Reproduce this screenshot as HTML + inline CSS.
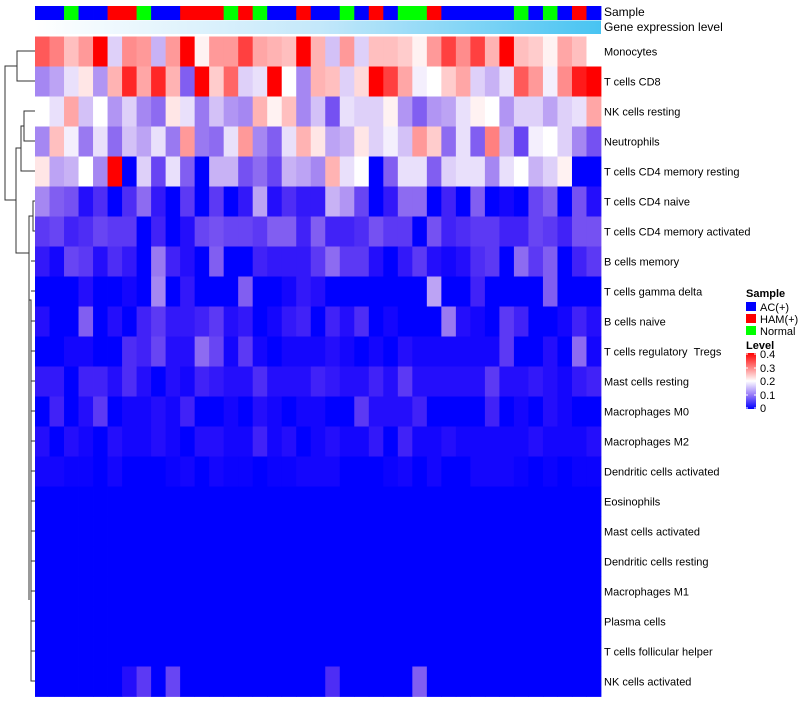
<!DOCTYPE html>
<html><head><meta charset="utf-8"><style>
body{margin:0;background:#fff;}
svg text{font-family:"Liberation Sans",sans-serif;fill:#000;}
</style></head><body>
<svg id="chart" width="800" height="700" xmlns="http://www.w3.org/2000/svg">
<defs>
<linearGradient id="geneGrad" x1="0" x2="1" y1="0" y2="0"><stop offset="0" stop-color="#ffffff"/><stop offset="0.5" stop-color="#c4e8fa"/><stop offset="1" stop-color="#48c4f2"/></linearGradient>
<linearGradient id="levelGrad" x1="0" x2="0" y1="1" y2="0"><stop offset="0" stop-color="#0000ff"/><stop offset="0.25" stop-color="#9679f8"/><stop offset="0.5" stop-color="#ffffff"/><stop offset="1" stop-color="#ff0000"/></linearGradient>
</defs>
<g id="annot"></g>
<rect x="35" y="20.5" width="566" height="13.5" fill="url(#geneGrad)"/>
<text x="604" y="16" font-size="12">Sample</text>
<text x="604" y="31" font-size="12">Gene expression level</text>
<g id="cells"></g>
<g id="labels"></g>
<g stroke="#333" stroke-width="1" fill="none">
<path d="M35 51H17V81H35"/>
<path d="M35 111H24V141H35"/>
<path d="M24 126H21V171H35"/>
<path d="M21 148H16V253H29"/>
<path d="M17 66H5V200H16"/>
<path d="M35 201H33V231H35"/>
<path d="M33 216H29V600"/>
<path d="M29 300H31V681H35"/>
<path d="M31 261H35M31 291H35M31 321H35M31 351H35M31 381H35M31 411H35M31 441H35M31 471H35M31 501H35M31 531H35M31 561H35M31 591H35M31 621H35M31 651H35"/>
</g>
<g>
<text x="746" y="297" font-size="11" font-weight="bold">Sample</text>
<rect x="746" y="302" width="10" height="9" fill="#0000ff"/>
<text x="760" y="311" font-size="11">AC(+)</text>
<rect x="746" y="314" width="10" height="9" fill="#ff0000"/>
<text x="760" y="323" font-size="11">HAM(+)</text>
<rect x="746" y="326" width="10" height="9" fill="#00ff00"/>
<text x="760" y="335" font-size="11">Normal</text>
<text x="746" y="349" font-size="11" font-weight="bold">Level</text>
<rect x="746" y="353" width="10" height="56" fill="url(#levelGrad)"/>
<g stroke="#fff" stroke-width="1">
<path d="M746 354h2M754 354h2M746 368h2M754 368h2M746 381h2M754 381h2M746 395h2M754 395h2M746 408h2M754 408h2"/>
</g>
<text x="760" y="358" font-size="11">0.4</text>
<text x="760" y="372" font-size="11">0.3</text>
<text x="760" y="385" font-size="11">0.2</text>
<text x="760" y="399" font-size="11">0.1</text>
<text x="760" y="412" font-size="11">0</text>
</g>
</svg>
<script>
const rowNames = ["Monocytes","T cells CD8","NK cells resting","Neutrophils","T cells CD4 memory resting","T cells CD4 naive","T cells CD4 memory activated","B cells memory","T cells gamma delta","B cells naive","T cells regulatory\u00a0\u00a0Tregs","Mast cells resting","Macrophages M0","Macrophages M2","Dendritic cells activated","Eosinophils","Mast cells activated","Dendritic cells resting","Macrophages M1","Plasma cells","T cells follicular helper","NK cells activated"];
const sampleGroups = ["AC","AC","N","AC","AC","H","H","N","AC","AC","H","H","H","N","H","N","AC","AC","H","AC","AC","N","AC","H","AC","N","N","H","AC","AC","AC","AC","AC","N","AC","N","AC","H","AC"];
const Z = [0,0,0,0,0,0,0,0,0,0,0,0,0,0,0,0,0,0,0,0,0,0,0,0,0,0,0,0,0,0,0,0,0,0,0,0,0,0,0];
const values = [
[.33,.30,.25,.28,.40,.17,.29,.28,.15,.28,.40,.21,.28,.28,.35,.27,.26,.25,.40,.26,.16,.28,.17,.25,.25,.24,.21,.28,.35,.29,.35,.26,.40,.25,.24,.21,.27,.25,.20],
[.12,.14,.18,.22,.13,.26,.37,.27,.37,.26,.09,.40,.24,.32,.17,.18,.40,.20,.12,.26,.25,.17,.23,.40,.35,.27,.19,.20,.24,.27,.17,.15,.18,.33,.28,.19,.29,.38,.40],
[.20,.18,.27,.16,.20,.13,.17,.12,.10,.22,.18,.11,.16,.13,.12,.26,.21,.25,.12,.16,.08,.18,.17,.17,.21,.13,.09,.13,.14,.18,.21,.20,.13,.17,.17,.14,.17,.18,.27],
[.12,.25,.19,.11,.18,.10,.16,.14,.18,.11,.28,.11,.10,.18,.28,.12,.09,.18,.26,.22,.14,.15,.22,.17,.19,.16,.28,.24,.10,.18,.09,.30,.15,.07,.19,.20,.17,.12,.08],
[.22,.14,.15,.20,.12,.40,0,.17,.07,.18,.09,0,.15,.15,.08,.10,.07,.15,.14,.12,.26,.18,.20,0,.09,.18,.18,.09,.17,.18,.18,.12,.18,.20,.15,.17,.21,0,0],
[.12,.09,.08,.02,.05,0,.05,.10,.03,0,.06,0,.06,0,.03,.14,.02,.05,.03,.03,.15,.13,.07,0,.03,.10,.10,0,.04,0,.09,0,.01,0,.07,.09,0,.08,.02],
[.06,.07,.04,.05,.07,.06,.06,0,.04,0,.02,.07,.08,.07,.07,.06,.09,.09,.04,.09,.04,.04,.05,.08,.06,.06,0,.08,.04,.05,.06,.06,.04,.04,.07,.06,.04,.08,.08],
[.03,.01,.07,.06,.02,.05,.03,0,.11,.04,.02,0,.09,0,0,.04,.03,.03,.03,.06,.10,.06,.06,.02,0,.03,.06,.02,.01,.02,.05,.06,0,.10,.06,.09,0,.04,.06],
[0,0,0,.02,0,0,.01,0,.12,0,.03,0,0,0,.09,0,0,.01,.03,.02,0,0,0,0,0,0,0,.14,0,0,.04,0,0,0,0,.09,0,0,0],
[.02,0,0,.09,0,.02,0,.04,.06,.03,.03,.04,.06,.02,.03,0,.01,.03,.04,0,.04,.02,.05,0,.01,0,0,0,.11,.02,.01,0,.06,.04,0,0,.01,.04,.02],
[0,0,.01,.01,0,0,.05,.04,.07,.02,.02,.10,.07,.01,.06,.01,0,.01,.01,.01,.02,.01,0,.01,0,.02,.01,.01,.01,.01,.01,.01,.06,0,0,.02,0,.10,.01],
[.03,.03,0,.04,.04,.02,.05,.02,0,.02,.01,.04,.03,.02,.02,.05,.02,.02,.02,.04,.03,.02,.02,.04,.02,.06,.02,.02,.02,.02,.02,.06,.02,.02,.03,.02,.01,.03,.04],
[0,.04,0,.02,.06,0,.01,.01,.02,.01,.04,0,0,.01,0,.02,.01,0,.01,.01,0,0,.06,.02,.02,.02,.04,0,0,0,0,.04,0,.01,0,.02,.01,0,0],
[.02,0,.02,.01,0,.02,.01,.01,.02,.01,0,.02,.02,.01,.01,.04,.01,.02,0,.01,.02,.01,.01,.03,0,.04,.01,.01,.02,.01,.01,.01,.01,.01,.02,.01,.01,.01,.02],
[.01,.01,.005,.005,0,.01,0,0,0,.005,.01,0,.01,.005,.005,0,.005,.005,.01,.01,.01,0,0,0,.005,.01,0,.01,0,0,.01,.01,.01,.005,0,.005,0,.005,.005],
Z,Z,Z,Z,Z,Z,
[0,0,0,0,0,0,.02,.06,0,.07,0,0,0,0,0,0,0,0,0,0,.05,0,0,0,0,0,.09,0,0,0,0,0,0,0,0,0,0,0,0]
];
const groupColors = {AC:"#0000ff",H:"#ff0000",N:"#00ff00"};
const NS="http://www.w3.org/2000/svg";
const x0=35, cw=566/39, y0=36.5, rh=30;
function xPos(i){return x0+i*cw;}
function yPos(r){return y0+r*rh;}
function colorOf(v){
  let t=Math.max(0,Math.min(0.4,v));
  let r,g,b;
  if(t<=0.2){const f=t/0.2;r=Math.round(255*Math.pow(f,0.85));g=Math.round(255*Math.pow(f,1.25));b=Math.round(255-14*Math.sin(Math.PI*f));}
  else{const f=(t-0.2)/0.2;r=255;g=Math.round(255*(1-f));b=Math.round(255*(1-f));}
  return `rgb(${r},${g},${b})`;
}
const annot=document.getElementById('annot');
sampleGroups.forEach((s,i)=>{
  const rc=document.createElementNS(NS,'rect');
  rc.setAttribute('x',xPos(i));rc.setAttribute('y',6);
  rc.setAttribute('width',cw+0.4);rc.setAttribute('height',14);
  rc.setAttribute('fill',groupColors[s]);
  
  
  annot.appendChild(rc);
});
const cells=document.getElementById('cells');
values.forEach((row,r)=>{
  row.forEach((v,i)=>{
    const rc=document.createElementNS(NS,'rect');
    rc.setAttribute('x',xPos(i));rc.setAttribute('y',yPos(r));
    rc.setAttribute('width',cw+0.4);rc.setAttribute('height',rh+0.4);
    rc.setAttribute('fill',colorOf(v));
    
    
    cells.appendChild(rc);
  });
});
const labels=document.getElementById('labels');
rowNames.forEach((n,r)=>{
  const t=document.createElementNS(NS,'text');
  t.setAttribute('x',604);t.setAttribute('y',yPos(r)+rh/2+4);
  t.setAttribute('font-size','11');
  t.textContent=n;
  
  
  labels.appendChild(t);
});
</script>
</body></html>
